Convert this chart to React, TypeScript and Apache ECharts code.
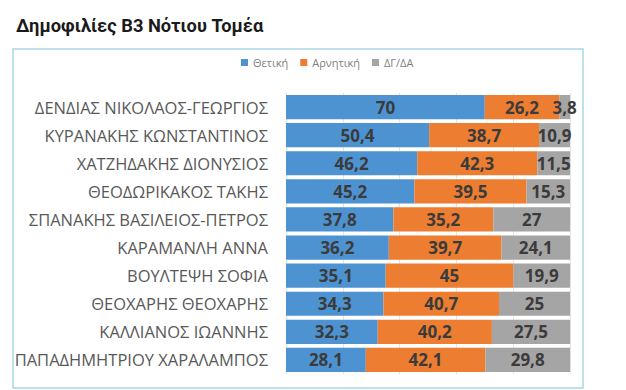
import React, { useEffect, useRef } from "react";
import * as echarts from "echarts";

const categories = [
  "ΔΕΝΔΙΑΣ ΝΙΚΟΛΑΟΣ-ΓΕΩΡΓΙΟΣ",
  "ΚΥΡΑΝΑΚΗΣ ΚΩΝΣΤΑΝΤΙΝΟΣ",
  "ΧΑΤΖΗΔΑΚΗΣ ΔΙΟΝΥΣΙΟΣ",
  "ΘΕΟΔΩΡΙΚΑΚΟΣ ΤΑΚΗΣ",
  "ΣΠΑΝΑΚΗΣ ΒΑΣΙΛΕΙΟΣ-ΠΕΤΡΟΣ",
  "ΚΑΡΑΜΑΝΛΗ ΑΝΝΑ",
  "ΒΟΥΛΤΕΨΗ ΣΟΦΙΑ",
  "ΘΕΟΧΑΡΗΣ ΘΕΟΧΑΡΗΣ",
  "ΚΑΛΛΙΑΝΟΣ ΙΩΑΝΝΗΣ",
  "ΠΑΠΑΔΗΜΗΤΡΙΟΥ ΧΑΡΑΛΑΜΠΟΣ",
];
const positive = [70, 50.4, 46.2, 45.2, 37.8, 36.2, 35.1, 34.3, 32.3, 28.1];
const negative = [26.2, 38.7, 42.3, 39.5, 35.2, 39.7, 45, 40.7, 40.2, 42.1];
const unknown = [3.8, 10.9, 11.5, 15.3, 27, 24.1, 19.9, 25, 27.5, 29.8];
const seriesNames = ["Θετική", "Αρνητική", "ΔΓ/ΔΑ"];
const colors = ["#4e93d1", "#ed7d31", "#a5a5a5"];
const title = "Δημοφιλίες Β3 Νότιου Τομέα";

export default function App() {
  const ref = useRef<HTMLDivElement>(null);
  useEffect(() => {
    if (!ref.current) return;
    const chart = echarts.init(ref.current, null, { renderer: "svg" });
    const data = [positive, negative, unknown];
    chart.setOption({
      animation: false,
      backgroundColor: "#ffffff",
      title: {
        text: title,
        left: 11,
        top: 11,
        textStyle: {
          fontFamily: "Roboto",
          fontWeight: "bold",
          fontSize: 18.3,
          color: "#1a1a1a",
        },
      },
      graphic: [
        {
          type: "rect",
          shape: { x: 13, y: 49, width: 570, height: 339 },
          style: { fill: "none", stroke: "#a9d8e8", lineWidth: 1.5 },
          silent: true,
          z: -1,
        },
      ],
      legend: {
        top: 52,
        left: 236,
        itemWidth: 7,
        itemHeight: 7,
        itemGap: 12,
        icon: "rect",
        textStyle: { fontFamily: "Open Sans", fontSize: 11, color: "#7f7f7f" },
        data: seriesNames,
      },
      grid: { left: 286, right: 56, top: 93, bottom: 16 },
      xAxis: {
        type: "value",
        min: 0,
        max: 100,
        interval: 20,
        axisLabel: { show: false },
        axisLine: { show: false },
        axisTick: { show: false },
        splitLine: { lineStyle: { color: "#e3e3e3" } },
      },
      yAxis: {
        type: "category",
        inverse: true,
        data: categories,
        axisLine: { show: false },
        axisTick: { show: false },
        axisLabel: {
          fontFamily: "Open Sans",
          fontSize: 16.5,
          color: "#595959",
          margin: 18,
        },
      },
      series: seriesNames.map((name, i) => ({
        name,
        type: "bar",
        stack: "total",
        barCategoryGap: "14%",
        data: data[i],
        itemStyle: { color: colors[i] },
        label: {
          show: true,
          position: "inside",
          formatter: (p: any) => String(p.value).replace(".", ","),
          fontFamily: "Open Sans",
          fontWeight: "bold",
          fontSize: 17,
          color: "#3b3b3b",
        },
      })),
    });
    return () => chart.dispose();
  }, []);
  return <div ref={ref} style={{ width: 626, height: 390, position: "absolute", left: 0, top: 0 }} />;
}
